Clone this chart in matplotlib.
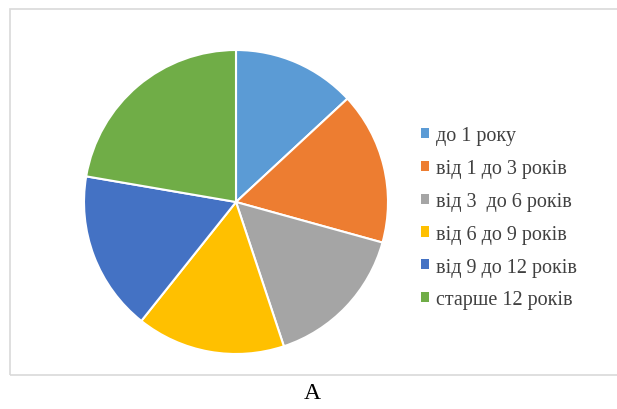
import matplotlib.pyplot as plt
from matplotlib.patches import Rectangle

labels = ['до 1 року', 'від 1 до 3 років', 'від 3  до 6 років',
          'від 6 до 9 років', 'від 9 до 12 років', 'старше 12 років']
values = [13.1, 16.2, 15.6, 15.8, 17.0, 22.3]
colors = ['#5B9BD5', '#ED7D31', '#A5A5A5', '#FFC000', '#4472C4', '#70AD47']

plt.rcParams['font.family'] = ['Liberation Serif', 'DejaVu Serif']

W, H = 617, 410
fig = plt.figure(figsize=(W / 100, H / 100), dpi=100)
fig.patch.set_facecolor('white')

# chart frame
fig.add_artist(Rectangle((10 / W, (H - 376) / H), 1.0, 366 / H,
                         transform=fig.transFigure, fill=False,
                         edgecolor='#d9d9d9', linewidth=1.2))

cx, cy, r = 236, H - 203, 152
ax = fig.add_axes([(cx - r) / W, (cy - r) / H, 2 * r / W, 2 * r / H])
wedges, _ = ax.pie(values, colors=colors, startangle=90, counterclock=False,
                   radius=1, wedgeprops=dict(edgecolor='white', linewidth=1.5))
ax.set_xlim(-1, 1)
ax.set_ylim(-1, 1)
ax.set_aspect('equal')
ax.axis('off')

leg = fig.legend(wedges, labels, loc='upper left',
                 bbox_to_anchor=(421 / W, 1 - 127 / H),
                 frameon=False, fontsize=14.5, handlelength=0.4,
                 handleheight=0.4, handletextpad=0.35, labelspacing=0.69,
                 borderaxespad=0, borderpad=0)
for t in leg.get_texts():
    t.set_color('#404040')
for h in leg.legend_handles:
    h.set_linewidth(0)

fig.text(312 / W, 1 - 394 / H, 'А', ha='center', va='center', fontsize=17,
         color='black')

fig.savefig('out.png', dpi=100, facecolor='white')
